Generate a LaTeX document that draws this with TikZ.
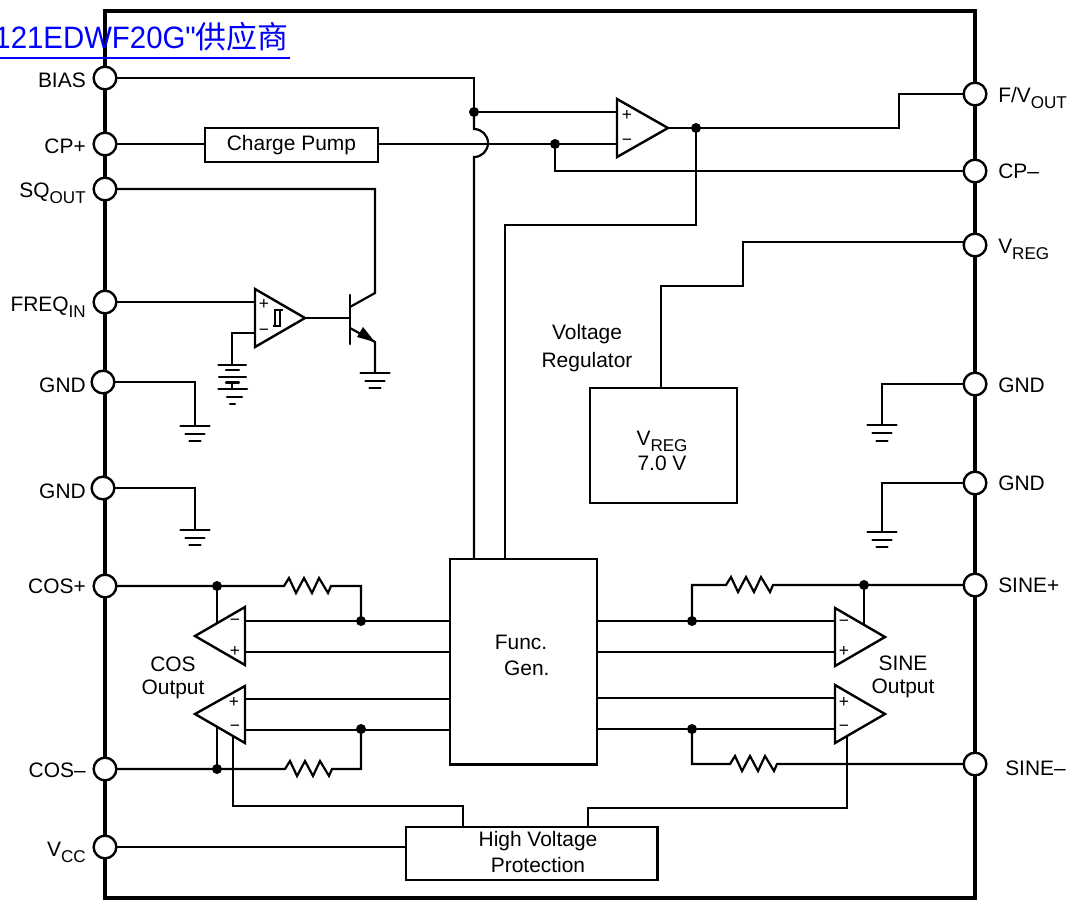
\documentclass[tikz,border=0pt]{standalone}
\usepackage{fontspec}
\setmainfont{Liberation Sans}
\newfontfamily\cjkfont{Noto Sans CJK SC}
\newfontfamily\webfont[FakeStretch=0.95]{Liberation Sans}
\usetikzlibrary{backgrounds}
\newcommand{\subt}[1]{\raisebox{-0.3em}{\fontsize{12.8pt}{14pt}\selectfont #1}}
\newcommand{\gndsym}[3]{%
  \draw[wire] (#1-14.5,#2) -- (#1+14.5,#2);
  \draw[wire] (#1-9.5,#2+8) -- (#1+9.5,#2+8);
  \draw[wire] (#1-5.5,#2+#3) -- (#1+5.5,#2+#3);}
\newcommand{\zig}[2]{(#1,#2) -- (#1+5,#2-8) -- (#1+12,#2+7) -- (#1+20,#2-8) -- (#1+28,#2+7) -- (#1+35,#2-8) -- (#1+44,#2+7) -- (#1+47,#2)}
\tikzset{
  wire/.style={line width=1.65pt,line join=miter,line cap=round},
  frame/.style={line width=3.7pt,line join=miter},
  pin/.style={circle,draw,fill=white,line width=1.8pt,minimum size=17pt,inner sep=0pt},
  box/.style={draw,line width=1.65pt,inner sep=0pt},
  amp/.style={line width=1.8pt,line join=miter,fill=white},
  lab/.style={inner sep=0pt,font=\fontsize{15.7pt}{19.5pt}\selectfont,align=center},
  sign/.style={inner sep=0pt,font=\fontsize{13pt}{15pt}\selectfont},
  dot/.style={circle,fill=black,inner sep=0pt,minimum size=7.5pt},
}
\begin{document}
\begin{tikzpicture}[x=0.75pt,y=-0.75pt]
\useasboundingbox (0,0) rectangle (1073,901);
% boxes
\node[box,minimum width=129.5pt,minimum height=25.5pt,anchor=north west,lab] (cp) at (204,127) {Charge Pump};
\node[box,minimum width=110pt,minimum height=86pt,anchor=north west] (vreg) at (589,387) {};
\node[box,minimum width=110pt,minimum height=154pt,anchor=north west] (fg) at (449,558) {};
\node[box,minimum width=188.5pt,minimum height=39.5pt,anchor=north west] (hv) at (405,826) {};
\node[lab] (tvreg) at (662,451) {V\subt{REG}\\[-0.5pt]7.0 V};
\node[lab] (tfg) at (521,655) {Func.\\[0pt]\ \ Gen.};
\node[lab] (thv) at (538,852) {High Voltage\\[-0.7pt]Protection};
% pins
\foreach \n/\x/\y in {BIAS/105/78,CPP/105/144,SQ/105/189,FREQ/105/302,GA/103/382,GB/103/488,COSP/105/586,COSM/105/769,VCC/105/847,
  FV/975/94,CPM/975/171,VR/975/245,GC/975/384,GD/975/483,SP/975/585,SM/975/764}
  \node[pin] (p\n) at (\x,\y) {};
% junctions and way-points
\coordinate (dBias) at (474,112);
\coordinate (dCm) at (555,144);
\coordinate (dOut) at (696,128);
\coordinate (dC1) at (217,586);
\coordinate (dC2) at (361,621);
\coordinate (dC3) at (217,769);
\coordinate (dC4) at (361,729);
\coordinate (dS1) at (864,585);
\coordinate (dS2) at (692,621);
\coordinate (dS3) at (692,729);
\coordinate (vrEnd) at (970,242);
\begin{scope}[on background layer]
\fill[white] (0,0) rectangle (1073,901);
\draw[frame] (105,11) rectangle (975,898);
\begin{scope}[wire]
% top section
\draw (pBIAS) -- (474,78) -- (dBias) -- (617,112);
\draw (dBias) -- (474,129) arc[start angle=-90,end angle=90,radius=14] -- (474,558);
\draw (pCPP) -- (cp.west |- pCPP);
\draw (cp.east |- 0,144) -- (617,144);
\draw (dCm) -- (555,171) -- (pCPM);
\draw (668,128) -- (dOut) -- (899,128) |- (pFV);
\draw (dOut) -- (696,225) -- (505,225) -- (505,558);
% VREG
\draw (661,387) -- (661,286) -- (743,286) -- (743,242) -- (vrEnd);
% SQ / FREQ
\draw (pSQ) -- (375,189) -- (375,293) -- (350,307);
\draw (pFREQ) -- (255,302);
\draw (255,333) -- (232,333) -- (232,365);
\draw (305,318) -- (350,318);
\draw (350,295) -- (350,344);
\draw (350,328) -- (375,342) -- (375,373);
\fill (375,342) -- (357,337) -- (363,327) -- cycle;
% grounds
\draw (pGA) -- (195,382) -- (195,426);
\draw (pGB) -- (195,488) -- (195,530);
\draw (pGC) -- (882,384) -- (882,425);
\draw (pGD) -- (882,483) -- (882,532);
\gndsym{195}{426}{15}
\gndsym{195}{530}{15}
\gndsym{882}{425}{16}
\gndsym{882}{532}{15}
\gndsym{375}{373}{15}
% double ground
\draw (218.5,365) -- (246,365);
\draw (226,370) -- (239,370);
\draw (219,377) -- (246,377);
\draw (226,382.5) -- (239,382.5);
\draw (232,382.5) -- (232,389);
\draw (218.5,389) -- (247,389);
\draw (227,397) -- (242,397);
\draw (230,404) -- (235,404);
% COS
\draw (pCOSP) -- (dC1) -- \zig{284}{586} -- (361,586) -- (dC2);
\draw (dC1) -- (217,623);
\draw (245,621) -- (fg.west |- dC2);
\draw (245,652) -- (fg.west |- 0,652);
\draw (245,699) -- (fg.west |- 0,699);
\draw (245,730) -- (fg.west |- 0,730);
\draw (pCOSM) -- (dC3) -- \zig{285}{769} -- (361,769) -- (dC4);
\draw (dC3) -- (217,727);
\draw (233,737) -- (233,806) -- (463,806) -- (463,826);
% SINE
\draw (dS2) -- (692,585) -- \zig{726}{585} -- (dS1) -- (pSP);
\draw (dS1) -- (864,624);
\draw (fg.east |- 0,621) -- (835,621);
\draw (fg.east |- 0,652) -- (835,652);
\draw (fg.east |- 0,698) -- (835,698);
\draw (fg.east |- 0,729) -- (835,729);
\draw (dS3) -- (692,764) -- \zig{730}{764} -- (pSM);
\draw (847,737) -- (847,808) -- (588,808) -- (588,826);
\draw (pVCC) -- (hv.west |- pVCC);
\end{scope}
\end{scope}
% amplifiers
\draw[amp] (617,99) -- (668,128) -- (617,157) -- cycle;
\draw[amp] (255,289) -- (305,318) -- (255,347) -- cycle;
\draw[amp] (245,607) -- (195,636) -- (245,665) -- cycle;
\draw[amp] (245,686) -- (195,714) -- (245,743) -- cycle;
\draw[amp] (835,608) -- (885,637) -- (835,666) -- cycle;
\draw[amp] (835,685) -- (885,714) -- (835,743) -- cycle;
\draw[line width=0.9pt] (273,326) -- (280,326) -- (280,310) -- (283,310) (275,326) -- (275,310) -- (280,310);
% dots
\foreach \d in {dBias,dCm,dOut,dC1,dC2,dC3,dC4,dS1,dS2,dS3} \node[dot] at (\d) {};
% signs
\foreach \x/\y/\s in {627/115/+,627/142/−,264/304/+,264/332/−,235/622/−,235/651/+,234/702/+,235/728/−,844/623/−,844/651/+,844/702/+,844/728/−}
  \node[sign] at (\x,\y) {\s};
% left labels
\foreach \y/\t in {87/BIAS,153/CP+,197/SQ\subt{OUT},311/FREQ\subt{IN},392/GND,498/GND,593/COS+,777/COS–,856/V\subt{CC}}
  \node[lab,anchor=base east] at (86,\y) {\t};
% right labels
\foreach \x/\y/\t in {998/102/{F/V\subt{OUT}},998/178/CP–,998/253/V\subt{REG},998/392/GND,998/490/GND,998/592/SINE+,1005/775/SINE–}
  \node[lab,anchor=base west] at (\x,\y) {\t};
% free labels
\node[lab] (tvr) at (587,348) {Voltage\\[1pt]Regulator};
\node[lab] (tcos) at (173,678) {COS\\[-2pt]Output};
\node[lab] (tsin) at (903,677) {SINE\\[-2pt]Output};
% web overlay
\node[inner sep=0pt,anchor=base east,text=blue,font=\fontsize{23.2pt}{26pt}\selectfont] (web) at (289,48) {\webfont 121EDWF20G"{\cjkfont 供应商}};
\draw[blue,line width=1.5pt] (0,58) -- (290,58);
\end{tikzpicture}
\end{document}
